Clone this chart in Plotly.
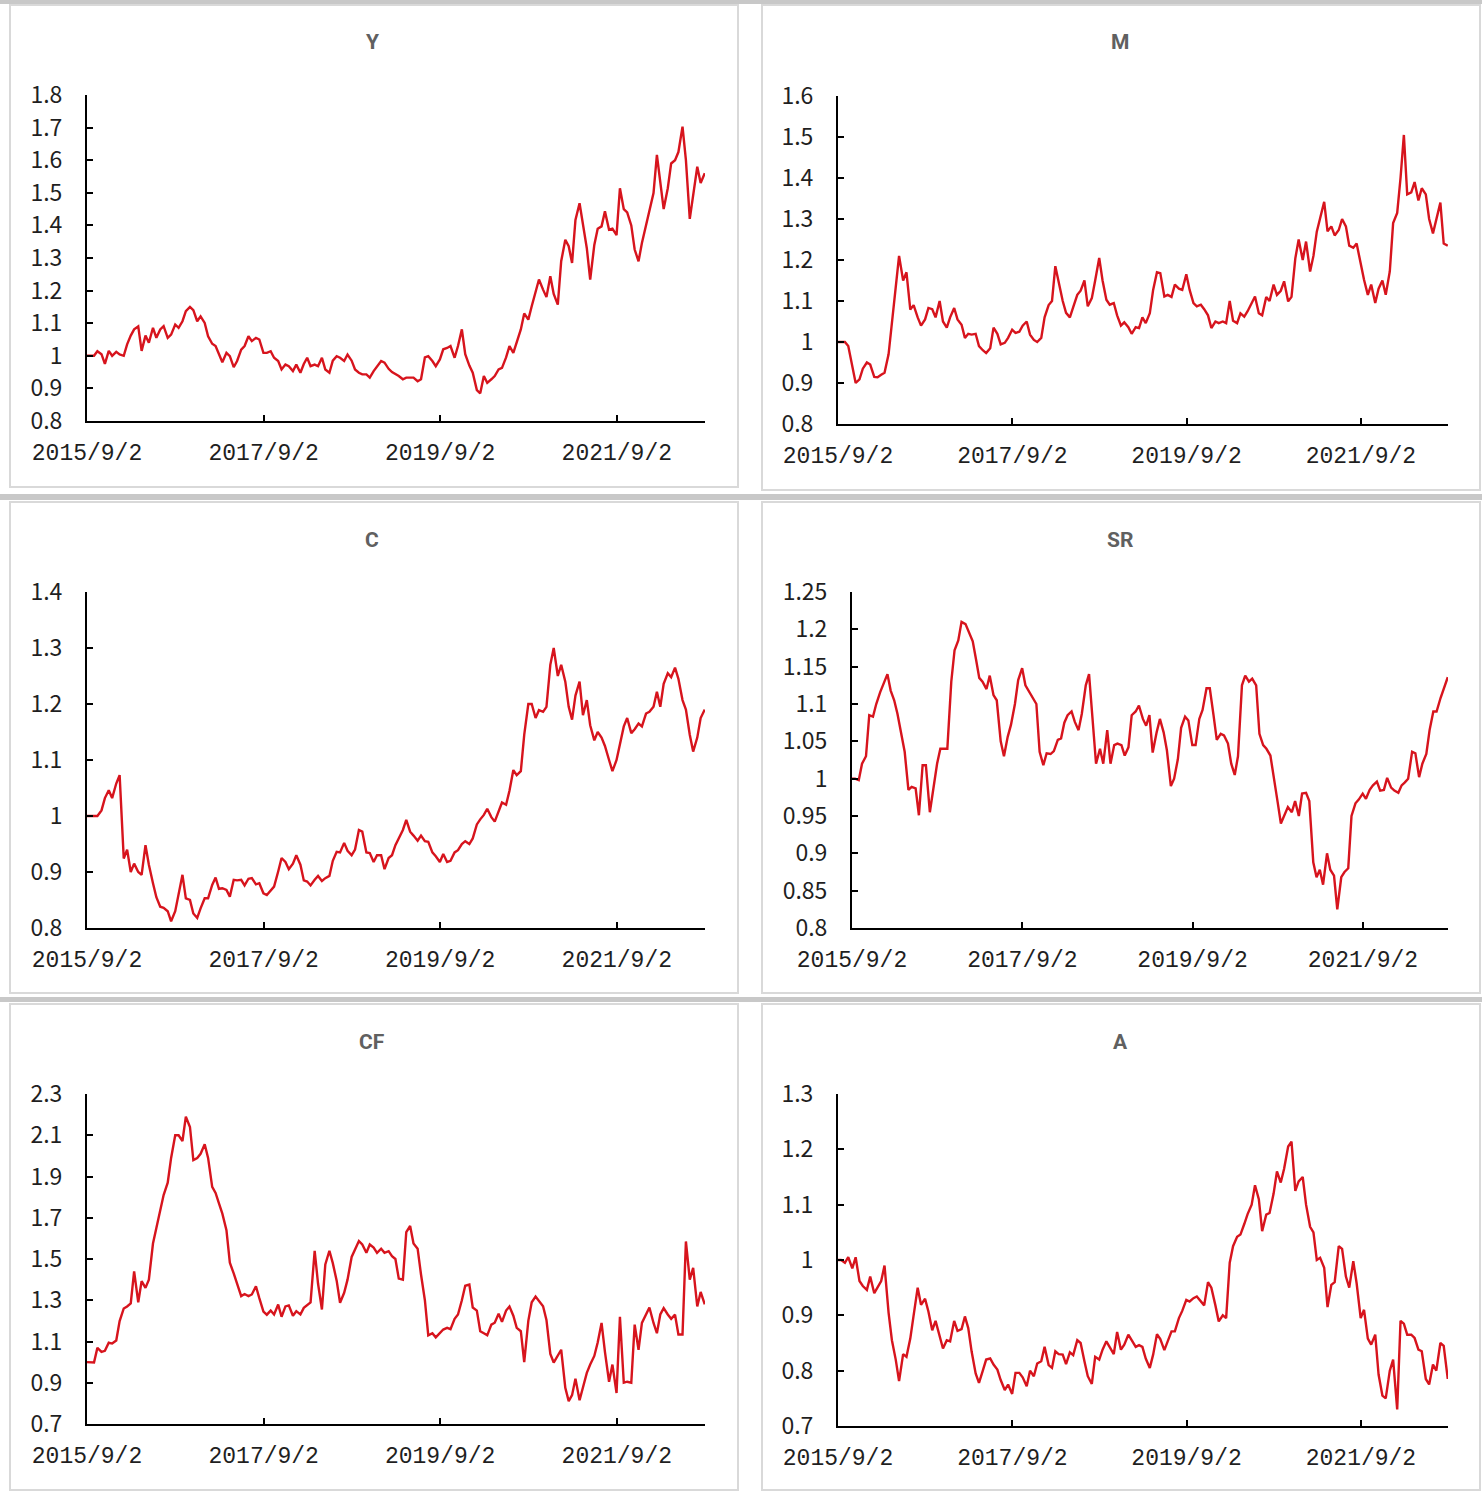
import pandas as pd
import plotly.graph_objects as go

W, H = 1482, 1494

# ---------------- data (semi-monthly readings from the picture) ----------------
dates = ["2015-09-02"] + [d.strftime("%Y-%m-%d")
                          for d in pd.date_range("2015-09-15", "2022-09-01", freq="SMS")]

Y = [1.000, 1.000, 1.000, 1.014, 1.005, 0.975, 1.015, 1.000, 1.012, 1.004,
     1.000, 1.035, 1.062, 1.081, 1.090, 1.015, 1.062, 1.040, 1.086, 1.055,
     1.081, 1.091, 1.055, 1.065, 1.096, 1.086, 1.106, 1.137, 1.150, 1.140,
     1.106, 1.121, 1.101, 1.060, 1.037, 1.030, 1.005, 0.980, 1.009, 0.999,
     0.965, 0.984, 1.019, 1.030, 1.060, 1.045, 1.055, 1.050, 1.009, 1.009,
     1.014, 0.994, 0.984, 0.958, 0.973, 0.968, 0.953, 0.973, 0.948, 0.975,
     0.994, 0.968, 0.973, 0.968, 0.994, 0.958, 0.948, 0.985, 0.999, 0.994,
     0.984, 1.004, 0.985, 0.958, 0.948, 0.943, 0.943, 0.933, 0.953, 0.968,
     0.984, 0.979, 0.960, 0.950, 0.945, 0.938, 0.928, 0.933, 0.933, 0.933,
     0.922, 0.928, 0.995, 0.999, 0.984, 0.968, 0.989, 1.020, 1.024, 1.030,
     0.994, 1.030, 1.081, 1.005, 0.970, 0.948, 0.895, 0.885, 0.938, 0.917,
     0.928, 0.938, 0.958, 0.963, 0.995, 1.030, 1.009, 1.045, 1.081, 1.130,
     1.111, 1.152, 1.200, 1.234, 1.203, 1.180, 1.244, 1.190, 1.157, 1.290,
     1.356, 1.336, 1.285, 1.417, 1.468, 1.400, 1.330, 1.234, 1.340, 1.390,
     1.397, 1.443, 1.387, 1.390, 1.370, 1.514, 1.450, 1.440, 1.400, 1.326,
     1.290, 1.346, 1.400, 1.440, 1.499, 1.616, 1.530, 1.450, 1.514, 1.590,
     1.600, 1.625, 1.703, 1.600, 1.420, 1.490, 1.580, 1.530, 1.560]

M = [1.000, 1.000, 1.000, 0.990, 0.945, 0.900, 0.909, 0.935, 0.950, 0.945,
     0.915, 0.914, 0.920, 0.925, 0.970, 1.050, 1.140, 1.210, 1.150, 1.170,
     1.079, 1.090, 1.060, 1.040, 1.055, 1.083, 1.080, 1.060, 1.100, 1.050,
     1.035, 1.060, 1.083, 1.055, 1.042, 1.010, 1.020, 1.018, 1.020, 0.990,
     0.980, 0.973, 0.985, 1.035, 1.020, 0.994, 0.998, 1.010, 1.030, 1.022,
     1.025, 1.040, 1.050, 1.018, 1.005, 1.000, 1.010, 1.060, 1.090, 1.100,
     1.185, 1.144, 1.100, 1.071, 1.060, 1.085, 1.115, 1.125, 1.150, 1.087,
     1.107, 1.150, 1.205, 1.150, 1.103, 1.091, 1.095, 1.065, 1.040, 1.048,
     1.036, 1.020, 1.036, 1.034, 1.060, 1.046, 1.070, 1.127, 1.170, 1.168,
     1.111, 1.115, 1.110, 1.140, 1.130, 1.127, 1.165, 1.127, 1.095, 1.087,
     1.091, 1.080, 1.065, 1.034, 1.050, 1.046, 1.050, 1.046, 1.100, 1.052,
     1.046, 1.070, 1.062, 1.075, 1.095, 1.111, 1.070, 1.065, 1.110, 1.100,
     1.140, 1.115, 1.125, 1.148, 1.099, 1.110, 1.204, 1.250, 1.200, 1.245,
     1.172, 1.210, 1.269, 1.300, 1.342, 1.270, 1.282, 1.260, 1.273, 1.300,
     1.282, 1.235, 1.230, 1.240, 1.190, 1.152, 1.115, 1.140, 1.095, 1.130,
     1.150, 1.115, 1.172, 1.290, 1.315, 1.400, 1.505, 1.360, 1.365, 1.390,
     1.345, 1.375, 1.360, 1.300, 1.265, 1.300, 1.340, 1.240, 1.235]

C = [1.000, 1.000, 1.000, 1.000, 1.010, 1.032, 1.046, 1.032, 1.058, 1.073,
     0.924, 0.940, 0.900, 0.915, 0.900, 0.895, 0.948, 0.913, 0.880, 0.855,
     0.838, 0.836, 0.830, 0.812, 0.830, 0.859, 0.895, 0.853, 0.850, 0.826,
     0.818, 0.835, 0.853, 0.853, 0.877, 0.890, 0.870, 0.871, 0.868, 0.856,
     0.886, 0.885, 0.886, 0.876, 0.888, 0.889, 0.878, 0.880, 0.862, 0.859,
     0.868, 0.874, 0.901, 0.925, 0.918, 0.905, 0.915, 0.930, 0.913, 0.885,
     0.883, 0.876, 0.886, 0.893, 0.884, 0.889, 0.893, 0.920, 0.936, 0.935,
     0.952, 0.938, 0.930, 0.940, 0.975, 0.972, 0.935, 0.934, 0.918, 0.930,
     0.930, 0.905, 0.925, 0.930, 0.948, 0.960, 0.975, 0.993, 0.972, 0.965,
     0.956, 0.965, 0.955, 0.954, 0.935, 0.928, 0.918, 0.932, 0.918, 0.920,
     0.935, 0.939, 0.950, 0.955, 0.950, 0.960, 0.985, 0.994, 1.002, 1.013,
     0.998, 0.990, 1.008, 1.024, 1.020, 1.045, 1.082, 1.073, 1.080, 1.145,
     1.200, 1.200, 1.175, 1.189, 1.186, 1.195, 1.270, 1.300, 1.250, 1.270,
     1.240, 1.195, 1.172, 1.215, 1.240, 1.180, 1.207, 1.162, 1.135, 1.150,
     1.140, 1.125, 1.100, 1.080, 1.100, 1.127, 1.160, 1.175, 1.148, 1.155,
     1.165, 1.160, 1.183, 1.186, 1.195, 1.222, 1.195, 1.236, 1.255, 1.248,
     1.265, 1.245, 1.207, 1.190, 1.145, 1.115, 1.140, 1.175, 1.190]

SR = [1.000, 1.000, 0.998, 1.020, 1.030, 1.085, 1.083, 1.100, 1.116, 1.128,
      1.140, 1.118, 1.105, 1.087, 1.060, 1.036, 0.985, 0.989, 0.987, 0.951,
      1.018, 1.018, 0.955, 0.983, 1.020, 1.040, 1.040, 1.040, 1.130, 1.172,
      1.185, 1.210, 1.207, 1.196, 1.184, 1.160, 1.135, 1.130, 1.120, 1.138,
      1.112, 1.105, 1.050, 1.030, 1.056, 1.072, 1.100, 1.132, 1.148, 1.125,
      1.116, 1.110, 1.100, 1.036, 1.018, 1.034, 1.033, 1.037, 1.052, 1.054,
      1.075, 1.085, 1.090, 1.076, 1.065, 1.087, 1.125, 1.140, 1.080, 1.020,
      1.040, 1.020, 1.065, 1.020, 1.045, 1.047, 1.045, 1.031, 1.042, 1.085,
      1.090, 1.098, 1.080, 1.071, 1.085, 1.035, 1.062, 1.080, 1.062, 1.038,
      0.990, 1.000, 1.026, 1.068, 1.083, 1.078, 1.045, 1.045, 1.080, 1.092,
      1.121, 1.121, 1.085, 1.052, 1.060, 1.058, 1.047, 1.020, 1.005, 1.030,
      1.125, 1.138, 1.130, 1.134, 1.125, 1.060, 1.045, 1.040, 1.031, 1.005,
      0.969, 0.940, 0.951, 0.962, 0.955, 0.970, 0.950, 0.980, 0.981, 0.970,
      0.888, 0.868, 0.878, 0.858, 0.900, 0.878, 0.870, 0.825, 0.868, 0.875,
      0.880, 0.950, 0.967, 0.972, 0.980, 0.973, 0.985, 0.991, 0.996, 0.984,
      0.985, 1.001, 0.988, 0.984, 0.981, 0.991, 0.995, 1.000, 1.036, 1.034,
      1.002, 1.020, 1.033, 1.065, 1.090, 1.090, 1.108, 1.121, 1.136]

CF = [1.000, 1.000, 0.998, 1.069, 1.050, 1.055, 1.094, 1.090, 1.105, 1.199,
      1.260, 1.270, 1.285, 1.440, 1.290, 1.393, 1.360, 1.400, 1.575, 1.650,
      1.735, 1.810, 1.870, 1.990, 2.100, 2.100, 2.072, 2.190, 2.140, 1.980,
      1.990, 2.010, 2.056, 1.990, 1.850, 1.820, 1.770, 1.720, 1.640, 1.482,
      1.430, 1.385, 1.320, 1.330, 1.320, 1.328, 1.368, 1.310, 1.245, 1.230,
      1.250, 1.231, 1.279, 1.220, 1.270, 1.275, 1.225, 1.247, 1.231, 1.263,
      1.275, 1.290, 1.540, 1.380, 1.255, 1.474, 1.540, 1.480, 1.395, 1.288,
      1.336, 1.400, 1.510, 1.550, 1.587, 1.571, 1.530, 1.570, 1.555, 1.530,
      1.550, 1.530, 1.538, 1.514, 1.500, 1.405, 1.400, 1.630, 1.660, 1.575,
      1.550, 1.425, 1.300, 1.130, 1.140, 1.120, 1.140, 1.158, 1.166, 1.160,
      1.210, 1.231, 1.300, 1.370, 1.376, 1.265, 1.250, 1.150, 1.140, 1.130,
      1.182, 1.191, 1.235, 1.195, 1.250, 1.270, 1.225, 1.166, 1.150, 1.000,
      1.200, 1.290, 1.318, 1.296, 1.271, 1.205, 1.040, 0.998, 1.030, 1.060,
      0.875, 0.811, 0.840, 0.920, 0.815, 0.880, 0.948, 0.988, 1.030, 1.095,
      1.190, 1.050, 0.905, 0.988, 0.850, 1.220, 0.900, 0.905, 0.900, 1.182,
      1.060, 1.190, 1.230, 1.265, 1.190, 1.140, 1.231, 1.262, 1.231, 1.210,
      1.230, 1.134, 1.134, 1.585, 1.400, 1.457, 1.270, 1.340, 1.280]

A = [1.000, 1.000, 0.995, 1.005, 0.985, 1.005, 0.962, 0.953, 0.946, 0.970,
     0.940, 0.950, 0.962, 0.990, 0.905, 0.855, 0.820, 0.781, 0.830, 0.825,
     0.858, 0.900, 0.950, 0.919, 0.930, 0.907, 0.873, 0.890, 0.860, 0.840,
     0.855, 0.853, 0.890, 0.872, 0.875, 0.898, 0.877, 0.835, 0.795, 0.778,
     0.800, 0.820, 0.822, 0.811, 0.802, 0.783, 0.765, 0.775, 0.758, 0.796,
     0.796, 0.788, 0.772, 0.800, 0.790, 0.813, 0.817, 0.843, 0.810, 0.805,
     0.835, 0.830, 0.829, 0.812, 0.833, 0.828, 0.855, 0.850, 0.817, 0.790,
     0.776, 0.825, 0.820, 0.838, 0.853, 0.843, 0.830, 0.870, 0.838, 0.847,
     0.865, 0.855, 0.843, 0.846, 0.843, 0.822, 0.805, 0.829, 0.866, 0.857,
     0.837, 0.853, 0.871, 0.871, 0.895, 0.908, 0.928, 0.925, 0.931, 0.934,
     0.926, 0.918, 0.960, 0.950, 0.918, 0.889, 0.900, 0.895, 0.995, 1.025,
     1.042, 1.046, 1.065, 1.083, 1.100, 1.135, 1.110, 1.052, 1.082, 1.085,
     1.120, 1.160, 1.140, 1.165, 1.205, 1.214, 1.125, 1.142, 1.150, 1.100,
     1.060, 1.050, 1.000, 1.004, 0.986, 0.915, 0.955, 0.960, 1.025, 1.020,
     0.970, 0.950, 0.998, 0.958, 0.895, 0.910, 0.858, 0.847, 0.865, 0.793,
     0.755, 0.750, 0.800, 0.820, 0.730, 0.890, 0.885, 0.865, 0.865, 0.859,
     0.838, 0.835, 0.785, 0.775, 0.811, 0.800, 0.850, 0.845, 0.785]

x_tick_dates = ["2015-09-02", "2017-09-02", "2019-09-02", "2021-09-02"]
x_tick_text = ["2015/9/2", "2017/9/2", "2019/9/2", "2021/9/2"]

y_ticks_Y = [0.8, 0.9, 1.0, 1.1, 1.2, 1.3, 1.4, 1.5, 1.6, 1.7, 1.8]
y_ticks_M = [0.8, 0.9, 1.0, 1.1, 1.2, 1.3, 1.4, 1.5, 1.6]
y_ticks_C = [0.8, 0.9, 1.0, 1.1, 1.2, 1.3, 1.4]
y_ticks_SR = [0.8, 0.85, 0.9, 0.95, 1.0, 1.05, 1.1, 1.15, 1.2, 1.25]
y_ticks_CF = [0.7, 0.9, 1.1, 1.3, 1.5, 1.7, 1.9, 2.1, 2.3]
y_ticks_A = [0.7, 0.8, 0.9, 1.0, 1.1, 1.2, 1.3]

series = [("Y", Y, y_ticks_Y), ("M", M, y_ticks_M), ("C", C, y_ticks_C),
          ("SR", SR, y_ticks_SR), ("CF", CF, y_ticks_CF), ("A", A, y_ticks_A)]

# ---------------- layout geometry (pixels) ----------------
plot_px = [(87, 705, 95, 421), (838, 1448, 96, 424),
           (87, 705, 592, 928), (852, 1448, 592, 928),
           (87, 705, 1094, 1424), (838, 1448, 1094, 1426)]
frame_px = [(10, 738, 5, 487), (762, 1480, 5, 490),
            (10, 738, 502, 993), (762, 1480, 502, 993),
            (10, 738, 1004, 1490), (762, 1480, 1004, 1490)]
title_px = [(372, 42), (1120, 42), (372, 540), (1120, 540), (372, 1042), (1120, 1042)]
strip_px = [(0, 4), (494, 500), (997, 1002)]

LINE = "#d7141d"
TXT = "#1f1f1f"
tick_font = dict(family="Noto Sans CJK SC, Noto Sans, sans-serif", size=23, color=TXT)
date_font = dict(family="Liberation Mono, DejaVu Sans Mono, monospace", size=23, color=TXT)


def px_x(x):
    return x / W


def px_y(y):
    return 1 - y / H


fig = go.Figure()
layout = dict(width=W, height=H,
              margin=dict(l=0, r=0, t=0, b=0, pad=0, autoexpand=False),
              paper_bgcolor="white", plot_bgcolor="white", showlegend=False,
              shapes=[], annotations=[])

for i, (name, vals, yt) in enumerate(series):
    n = i + 1
    xa = "x" if n == 1 else f"x{n}"
    ya = "y" if n == 1 else f"y{n}"
    fig.add_trace(go.Scatter(x=dates[:len(vals)], y=vals, mode="lines",
                             line=dict(color=LINE, width=2.4),
                             xaxis=xa, yaxis=ya, name=name, hoverinfo="x+y"))
    x0, x1, yt_px, yb_px = plot_px[i]
    layout[f"xaxis{'' if n == 1 else n}"] = dict(
        type="date", domain=[px_x(x0), px_x(x1)], anchor=ya,
        range=["2015-09-02", "2022-09-02"], automargin=False,
        tickmode="array", tickvals=x_tick_dates, ticktext=x_tick_text,
        ticks="inside", ticklen=6, tickwidth=1.5, tickcolor="black",
        showline=True, linecolor="black", linewidth=2,
        showgrid=False, zeroline=False, tickfont=date_font,
        ticklabelstandoff=9, fixedrange=True)
    layout[f"yaxis{'' if n == 1 else n}"] = dict(
        domain=[px_y(yb_px), px_y(yt_px)], anchor=xa,
        range=[yt[0], yt[-1]], automargin=False,
        tickmode="array", tickvals=yt, ticktext=[f"{v:g}" for v in yt],
        ticks="inside", ticklen=6, tickwidth=1.5, tickcolor="black",
        showline=True, linecolor="black", linewidth=2,
        showgrid=False, zeroline=False, tickfont=tick_font,
        ticklabelstandoff=18, fixedrange=True)
    fx0, fx1, fy0, fy1 = frame_px[i]
    layout["shapes"].append(dict(type="rect", xref="paper", yref="paper",
                                 x0=px_x(fx0), x1=px_x(fx1), y0=px_y(fy1), y1=px_y(fy0),
                                 line=dict(color="#d9d9d9", width=2), layer="below"))
    tx, ty = title_px[i]
    layout["annotations"].append(dict(
        text=f"<b>{name}</b>", xref="paper", yref="paper", x=px_x(tx), y=px_y(ty),
        xanchor="center", yanchor="middle", showarrow=False,
        font=dict(family="Roboto, Noto Sans, sans-serif", size=21, color="#606060")))

for (s0, s1) in strip_px:
    layout["shapes"].append(dict(type="rect", xref="paper", yref="paper",
                                 x0=0, x1=1, y0=px_y(s1), y1=px_y(s0),
                                 line=dict(width=0), fillcolor="#c8c8c8", layer="below"))

fig.update_layout(**layout)
fig.write_html("out.html", config={"responsive": False, "displayModeBar": False},
               post_script="document.body.style.margin='0';document.body.style.padding='0';")
